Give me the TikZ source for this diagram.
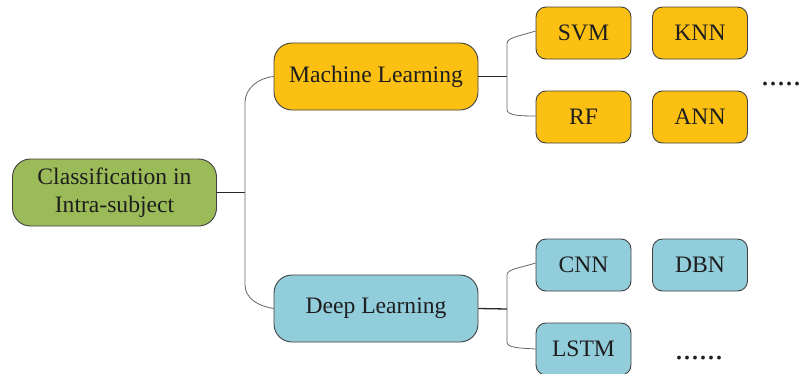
\documentclass[tikz,border=0pt]{standalone}
\usepackage{fontspec}
\setmainfont{Liberation Serif}
\definecolor{rootgreen}{RGB}{155,187,89}
\definecolor{mlorange}{RGB}{251,192,18}
\definecolor{dlblue}{RGB}{146,205,220}
\definecolor{edgegray}{RGB}{64,64,64}
\definecolor{txt}{RGB}{30,30,30}
\begin{document}
\begin{tikzpicture}[x=1pt,y=-1pt,
  box/.style={draw=edgegray, line width=0.9pt, text=txt, align=center,
    font=\fontsize{23.6}{28}\selectfont, inner sep=0pt},
  bigbox/.style={box, rounded corners=18pt, minimum width=204pt, minimum height=67pt},
  smallbox/.style={box, rounded corners=10pt, minimum width=95pt, minimum height=52pt},
  conn/.style={draw=edgegray!80, line width=0.8pt},
  stub/.style={draw=black!85, line width=1.6pt},
  dotstxt/.style={text=txt, font=\fontsize{32}{32}\selectfont, inner sep=0pt}
]
\useasboundingbox (0,0) rectangle (801,373);
\begin{scope}
\clip (0,0) rectangle (801,373);

\node[bigbox, fill=rootgreen] (root) at (114.5,192.5) {Classification in\\Intra-subject};
\node[bigbox, fill=mlorange] (ml) at (376,76.5) {Machine Learning};
\node[bigbox, fill=dlblue] (dl) at (376,308.5) {Deep Learning};

\node[smallbox, fill=mlorange] (svm) at (583.5,33) {SVM};
\node[smallbox, fill=mlorange] (knn) at (700,33) {KNN};
\node[smallbox, fill=mlorange] (rf) at (583.5,117) {RF};
\node[smallbox, fill=mlorange] (ann) at (700,117) {ANN};

\node[smallbox, fill=dlblue] (cnn) at (583.5,265) {CNN};
\node[smallbox, fill=dlblue] (dbn) at (700,265) {DBN};
\node[smallbox, fill=dlblue] (lstm) at (583.5,349) {LSTM};

\node[dotstxt, anchor=base west] (mldots) at (761,85) {.....};
\node[dotstxt, anchor=base west] (dldots) at (675,359) {......};

% junction coordinates
\coordinate (j1) at (245,192.5);
\coordinate (j2) at (507,76.5);
\coordinate (j3) at (507,309);

% root branches
\draw[line width=1.3pt, draw=black!85] (root.east) -- (j1);
\draw[conn] (j1) -- ++(0,-90) .. controls ++(0,-14) and (258,78) .. (ml.west);
\draw[conn] (j1) -- ++(0,92) .. controls ++(0,14) and (258,306) .. (dl.west);

% ML branches
\draw[stub] (ml.east) -- (j2);
\draw[conn] (j2) -- ++(0,-33) .. controls ++(0,-6) and (520,36) .. ([yshift=2pt]svm.west);
\draw[conn] (j2) -- ++(0,33) .. controls ++(0,6) and (520,116) .. ([yshift=1pt]rf.west);

% DL branches
\draw[line width=1.3pt, draw=black!85] (dl.east) -- (j3);
\draw[conn] (j3) -- ++(0,-34) .. controls ++(0,-6) and (520,268) .. ([yshift=2pt]cnn.west);
\draw[conn] (j3) -- ++(0,33) .. controls ++(0,6) and (520,348) .. (lstm.west);
\end{scope}
\end{tikzpicture}
\end{document}
